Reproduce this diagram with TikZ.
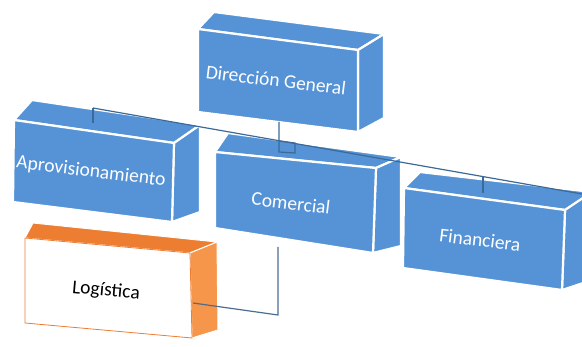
\documentclass[tikz,border=0pt]{standalone}
\usepackage{fontspec}
\setmainfont{Carlito}
\definecolor{boxblue}{HTML}{5593D6}
\definecolor{connblue}{HTML}{3C6A98}
\definecolor{orangetop}{HTML}{ED7D31}
\definecolor{orangeside}{HTML}{F5964A}
\begin{document}
\begin{tikzpicture}[x=1pt,y=-1pt,
  face/.style={fill=boxblue,draw=white,line width=2.2pt,line join=round},
  oface/.style={draw=white,line width=1pt,line join=round},
  lbl/.style={text=white,font=\fontsize{19.5}{22}\selectfont,rotate=-7,inner sep=0pt},
  conn/.style={draw=connblue,line width=1.2pt}]
\useasboundingbox[fill=white] (0,0) rectangle (582,347);
% ---------- Direccion General
\coordinate (dgFL) at (198,29); \coordinate (dgFR) at (358,50);
\coordinate (dgBR) at (358,132); \coordinate (dgBL) at (198,112);
\coordinate (dgTL) at (214,12); \coordinate (dgTR) at (384,34);
\coordinate (dgSB) at (384,118);
\draw[face] (dgFL) -- (dgTL) -- (dgTR) -- (dgFR) -- cycle;
\draw[face] (dgFR) -- (dgTR) -- (dgSB) -- (dgBR) -- cycle;
\draw[face] (dgFL) -- (dgFR) -- (dgBR) -- (dgBL) -- cycle;
\node[lbl] (dg) at (276,80) {Dirección General};
% ---------- Aprovisionamiento
\coordinate (apFL) at (14,120); \coordinate (apFR) at (174,143);
\coordinate (apBR) at (172,222); \coordinate (apBL) at (13,202);
\coordinate (apTL) at (32,100); \coordinate (apTR) at (200,125);
\coordinate (apSB) at (200,212);
\draw[face] (apFL) -- (apTL) -- (apTR) -- (apFR) -- cycle;
\draw[face] (apFR) -- (apTR) -- (apSB) -- (apBR) -- cycle;
\draw[face] (apFL) -- (apFR) -- (apBR) -- (apBL) -- cycle;
\node[lbl] (ap) at (91,172) {Aprovisionamiento};
% ---------- Comercial
\coordinate (coFL) at (215,152); \coordinate (coFR) at (376,168);
\coordinate (coBR) at (373,253); \coordinate (coBL) at (215,228);
\coordinate (coTL) at (228,133); \coordinate (coTR) at (401,157);
\coordinate (coSB) at (401,246);
\draw[face] (coFL) -- (coTL) -- (coTR) -- (coFR) -- cycle;
\draw[face] (coFR) -- (coTR) -- (coSB) -- (coBR) -- cycle;
\draw[face] (coFL) -- (coFR) -- (coBR) -- (coBL) -- cycle;
\node[lbl] (co) at (291,203) {Comercial};
% ---------- Financiera
\coordinate (fiFL) at (404,188); \coordinate (fiFR) at (565,210);
\coordinate (fiBR) at (562,290); \coordinate (fiBL) at (403,268);
\coordinate (fiTL) at (420,172); \coordinate (fiTR) at (592,192);
\coordinate (fiSB) at (592,280);
\draw[face] (fiFL) -- (fiTL) -- (fiTR) -- (fiFR) -- cycle;
\draw[face] (fiFR) -- (fiTR) -- (fiSB) -- (fiBR) -- cycle;
\draw[face] (fiFL) -- (fiFR) -- (fiBR) -- (fiBL) -- cycle;
\node[lbl] (fi) at (480,240) {Financiera};
% ---------- connectors (bus)
\coordinate (busL) at (93,108); \coordinate (busR) at (582,194);
\coordinate (apT) at (93,123);
\coordinate (fiA) at (483,177); \coordinate (fiT) at (483,193);
\coordinate (dgD) at (279,122); \coordinate (dgE) at (279,152);
\coordinate (coA) at (295,143); \coordinate (coT) at (295,153);
\coordinate (dgX) at (279,141);
\draw[conn] (busL) -- (busR);
\draw[conn] (busL) -- (apT);
\draw[conn] (fiA) -- (fiT);
\draw[conn] (dgD) -- (dgE) -- (coT) -- (coA) -- (dgX);
% ---------- Logistica
\coordinate (loFL) at (25,238); \coordinate (loFR) at (190,253);
\coordinate (loBR) at (192,338); \coordinate (loBL) at (25,323);
\coordinate (loTL) at (33,223); \coordinate (loTR) at (217,242);
\coordinate (loSB) at (218,330);
\draw[oface,fill=orangetop] (loFL) -- (loTL) -- (loTR) -- (loFR) -- cycle;
\draw[oface,fill=orangeside] (loFR) -- (loTR) -- (loSB) -- (loBR) -- cycle;
\draw[fill=white,draw=orangetop,line width=0.8pt] (loFL) -- (loFR) -- (loBR) -- (loBL) -- cycle;
\node[lbl,text=black,rotate=2] (lo) at (106,291) {Logística};
% ---------- Logistica -- Comercial
\coordinate (loC) at (193,303); \coordinate (corner) at (278,315);
\coordinate (coC) at (278,247);
\draw[conn,draw=connblue!80!gray] (loC) -- (corner) -- (coC);
\end{tikzpicture}
\end{document}
